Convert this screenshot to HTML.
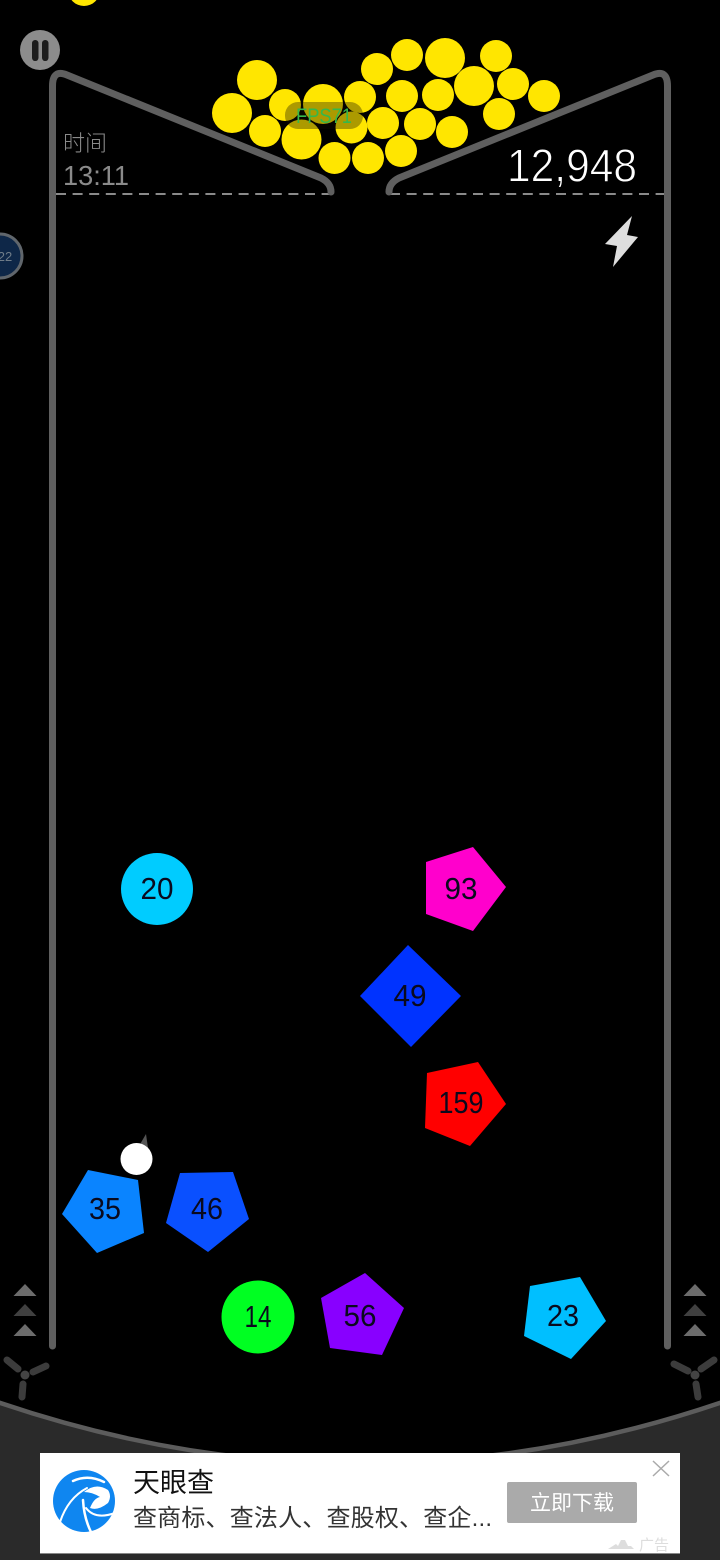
<!DOCTYPE html>
<html>
<head>
<meta charset="utf-8">
<style>
html,body{margin:0;padding:0;background:#000;width:720px;height:1560px;overflow:hidden}
svg{display:block}
text{font-family:"Liberation Sans","Noto Sans CJK SC",sans-serif}
.n{font-size:31px;fill:#0a0a1e;text-anchor:middle}
</style>
</head>
<body>
<svg width="720" height="1560" viewBox="0 0 720 1560" xmlns="http://www.w3.org/2000/svg">
<rect width="720" height="1560" fill="#000"/>

<!-- floor -->
<path d="M-4 1401.500 Q360 1526 724 1401.500 L724 1564 L-4 1564 Z" fill="#2a2a2a" stroke="#5c5c5c" stroke-width="4.500"/>

<!-- yellow balls -->
<g fill="#ffe600">
<circle cx="84" cy="-10" r="16"/>
<circle cx="257" cy="80" r="20"/>
<circle cx="232" cy="113" r="20"/>
<circle cx="285" cy="105" r="16"/>
<circle cx="265" cy="131" r="16"/>
<circle cx="323" cy="104" r="20"/>
<circle cx="301.500" cy="139.500" r="20"/>
<circle cx="334.500" cy="158" r="16"/>
<circle cx="351.500" cy="127.500" r="16"/>
<circle cx="360" cy="97" r="16"/>
<circle cx="377" cy="69" r="16"/>
<circle cx="407" cy="55" r="16"/>
<circle cx="445" cy="58" r="20"/>
<circle cx="496" cy="56" r="16"/>
<circle cx="474" cy="86" r="20"/>
<circle cx="513" cy="84" r="16"/>
<circle cx="544" cy="96" r="16"/>
<circle cx="499" cy="114" r="16"/>
<circle cx="402" cy="96" r="16"/>
<circle cx="438" cy="95" r="16"/>
<circle cx="383" cy="123" r="16"/>
<circle cx="420" cy="124" r="16"/>
<circle cx="452" cy="132" r="16"/>
<circle cx="368" cy="158" r="16"/>
<circle cx="401" cy="151" r="16"/>
</g>

<!-- FPS pill -->
<rect x="285" y="102" width="78" height="27" rx="13" fill="#100c00" fill-opacity="0.35"/>
<text x="296" y="123" font-size="21" fill="#35b84a" textLength="56" lengthAdjust="spacingAndGlyphs">FPS71</text>

<!-- dashed lines -->
<path d="M56 194H330M390 194H664" stroke="#8a8a8a" stroke-width="2" stroke-dasharray="10 6.600" fill="none"/>

<!-- walls -->
<g fill="none" stroke="#5f5f5f" stroke-width="7" stroke-linecap="round" stroke-linejoin="round">
<path d="M52.500 1346 V86 Q52.500 69 67 75 L321 178 Q331 183 331 192"/>
<path d="M667.500 1346 V86 Q667.500 69 653 75 L399 178 Q389 183 389 192"/>
</g>

<!-- pause -->
<circle cx="40" cy="50" r="20" fill="#8c8c8c"/>
<rect x="32" y="40" width="6.500" height="21" rx="3.200" fill="#1c1c1c"/>
<rect x="42" y="40" width="6.500" height="21" rx="3.200" fill="#1c1c1c"/>

<!-- time -->
<text x="63" y="151" font-size="22" fill="#8a8a8a" font-family="'Noto Sans CJK SC',sans-serif" font-weight="300">时间</text>
<text x="63" y="185" font-size="28" fill="#8a8a8a" textLength="66" lengthAdjust="spacingAndGlyphs">13:11</text>

<!-- score -->
<text x="507" y="181.500" font-size="46" fill="#fff" stroke="#000" stroke-width="0.900" textLength="130" lengthAdjust="spacingAndGlyphs">12,948</text>

<!-- lightning -->
<polygon points="632,216 605,244 617,246 613,267 638,237 627,235" fill="#dedede"/>

<!-- left badge -->
<circle cx="0" cy="256" r="22" fill="#0e2748" stroke="#60666c" stroke-width="3"/>
<text x="5" y="261" font-size="13" fill="#6f7c88" text-anchor="middle">22</text>

<!-- blocks -->
<circle cx="157" cy="889" r="36" fill="#00ccff"/>
<text class="n" x="157" y="899" textLength="33" lengthAdjust="spacingAndGlyphs">20</text>

<polygon points="473,847 506,887 473,931 426,914 426,862" fill="#ff00cc"/>
<text class="n" x="461" y="899" textLength="33" lengthAdjust="spacingAndGlyphs">93</text>

<polygon points="408,945 461,996 411,1047 360,996" fill="#0033ff"/>
<text class="n" x="410" y="1006" textLength="33" lengthAdjust="spacingAndGlyphs">49</text>

<polygon points="478,1062 506,1104 470,1146 425,1128 427,1073" fill="#ff0000"/>
<text class="n" x="461" y="1113" textLength="45" lengthAdjust="spacingAndGlyphs">159</text>

<polygon points="88,1170 138,1180 144,1233 97,1253 62,1214" fill="#0a84ff"/>
<text class="n" x="105" y="1219" textLength="32" lengthAdjust="spacingAndGlyphs">35</text>

<polygon points="180,1173 233,1172 249,1219 208,1252 166,1223" fill="#0a50ff"/>
<text class="n" x="207" y="1219" textLength="32" lengthAdjust="spacingAndGlyphs">46</text>

<circle cx="258" cy="1317" r="36.500" fill="#00ff22"/>
<text class="n" x="258" y="1327" textLength="27" lengthAdjust="spacingAndGlyphs">14</text>

<polygon points="321,1298 365,1273 404,1308 382,1355 330,1348" fill="#8800ff"/>
<text class="n" x="360" y="1326" textLength="33" lengthAdjust="spacingAndGlyphs">56</text>

<polygon points="530,1286 580,1277 606,1321 571,1359 524,1336" fill="#00bfff"/>
<text class="n" x="563" y="1326" textLength="32" lengthAdjust="spacingAndGlyphs">23</text>

<!-- white ball -->
<polygon points="146,1134 139,1146 148,1148" fill="#555"/>
<circle cx="136.500" cy="1159" r="16" fill="#fff"/>

<!-- chevrons -->
<polygon points="25,1284 36.500,1296 13.500,1296" fill="#6c6c6c"/>
<polygon points="25,1304 36.500,1316 13.500,1316" fill="#404040"/>
<polygon points="25,1324 36.500,1336 13.500,1336" fill="#6c6c6c"/>
<polygon points="695,1284 706.500,1296 683.500,1296" fill="#6c6c6c"/>
<polygon points="695,1304 706.500,1316 683.500,1316" fill="#404040"/>
<polygon points="695,1324 706.500,1336 683.500,1336" fill="#6c6c6c"/>

<!-- fans -->
<g stroke="#3c3c3c" stroke-width="7" stroke-linecap="round" fill="none">
<path d="M7 1360L18 1369M33 1372L46 1366M23 1384L22 1397"/>
<path d="M674 1364L688 1371M701 1369L714 1360M696 1384L698 1397"/>
</g>
<circle cx="25" cy="1375" r="4.500" fill="#444"/>
<circle cx="695" cy="1375" r="4.500" fill="#444"/>

<!-- ad -->
<rect x="40" y="1453" width="640" height="100" fill="#fff"/>
<rect x="40" y="1553" width="640" height="1" fill="#888"/>
<circle cx="84" cy="1501" r="31" fill="#0f86f0"/>
<g fill="none" stroke="#fff" stroke-linecap="round">
<path d="M73 1481 Q88 1474 104 1482" stroke-width="2.500"/>
<path d="M60 1522 Q68 1498 87 1488" stroke-width="2"/>
<path d="M83 1500 Q84 1518 91 1532" stroke-width="2.500"/>
<path d="M86 1508 Q95 1520 115 1513" stroke-width="2"/>
</g>
<path d="M84 1492 Q96 1482 108 1490 Q112 1496 108 1503 Q98 1511 90 1508 Q94 1498 100 1497 Q92 1492 84 1492Z" fill="#fff"/>
<text x="133" y="1492" font-size="27" fill="#111" font-family="'Noto Sans CJK SC',sans-serif">天眼查</text>
<text x="133" y="1526" font-size="24" fill="#333" font-family="'Noto Sans CJK SC',sans-serif" textLength="359">查商标、查法人、查股权、查企...</text>
<rect x="507" y="1482" width="130" height="41" rx="2" fill="#aaa"/>
<text x="572" y="1510" font-size="21" fill="#fff" text-anchor="middle" font-family="'Noto Sans CJK SC',sans-serif">立即下载</text>
<path d="M653 1461L669 1476M669 1461L653 1476" stroke="#aaa" stroke-width="1.500" fill="none"/>
<polygon points="608,1549 616,1544 618,1546 621,1540 625,1540 628,1546 631,1546 634,1549" fill="#ddd"/>
<text x="639" y="1550" font-size="15" fill="#ddd" font-family="'Noto Sans CJK SC',sans-serif">广告</text>
</svg>
</body>
</html>
